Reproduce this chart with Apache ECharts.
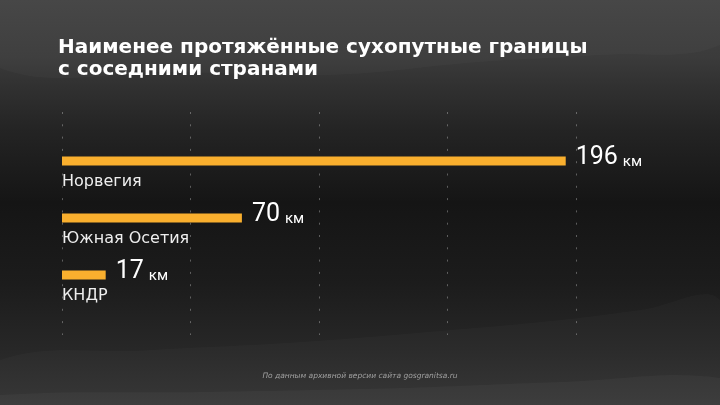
<!DOCTYPE html>
<html><head><meta charset="utf-8">
<script src="https://cdn.jsdelivr.net/npm/echarts@6/dist/echarts.min.js"></script>
<style>html,body{margin:0;padding:0;background:#1c1c1c}#c{width:720px;height:405px}</style>
</head><body><div id="c"></div>
<script>
const categories = ['Норвегия', 'Южная Осетия', 'КНДР'];
const values = [196, 70, 17];
const unit = 'км';
const axisMin = 0, axisMax = 200, axisStep = 50;
const titleText = 'Наименее протяжённые сухопутные границы\nс соседними странами';
const sourceText = 'По данным архивной версии сайта gosgranitsa.ru';

const chart = echarts.init(document.getElementById('c'));
const FONT = 'DejaVu Sans';
const NUMFONT = 'Roboto';
chart.setOption({
  backgroundColor: {
    type: 'linear', x: 0, y: 0, x2: 0, y2: 1,
    colorStops: [
      {offset: 0, color: '#434343'},
      {offset: 0.14, color: '#3b3b3b'},
      {offset: 0.22, color: '#303030'},
      {offset: 0.32, color: '#242424'},
      {offset: 0.5, color: '#151515'},
      {offset: 0.7, color: '#1c1c1c'},
      {offset: 0.86, color: '#272727'},
      {offset: 1, color: '#333333'}
    ]
  },
  graphic: [
    {type: 'polygon', silent: true, z: -10,
     shape: {smooth: 0.4, points: [[0,0],[720,0],[720,45],[600,55],[480,62],[330,75],[180,72],[0,68]]},
     style: {fill: 'rgba(255,255,255,0.025)'}},
    {type: 'polygon', silent: true, z: -10,
     shape: {smooth: 0.4, points: [[0,405],[0,360],[150,350],[300,342],[450,330],[560,320],[640,310],[720,300],[720,405]]},
     style: {fill: 'rgba(255,255,255,0.02)'}},
    {type: 'polygon', silent: true, z: -10,
     shape: {smooth: 0.4, points: [[0,405],[0,395],[200,392],[400,388],[560,382],[720,378],[720,405]]},
     style: {fill: 'rgba(255,255,255,0.03)'}}
  ],
  title: [{
    text: titleText, left: 53, top: 32,
    textStyle: {color: '#ffffff', fontFamily: FONT, fontWeight: 'bold', fontSize: 20, lineHeight: 22}
  }, {
    text: sourceText, left: 'center', top: 367,
    textStyle: {color: '#a0a0a0', fontFamily: FONT, fontStyle: 'italic', fontWeight: 'normal', fontSize: 7.5}
  }],
  grid: [
    {left: 62, right: 144, top: 112, bottom: 70},
    {left: 62, right: 144, top: 132.5, bottom: 101.5}
  ],
  xAxis: [
    {gridIndex: 0, type: 'value', min: axisMin, max: axisMax, interval: axisStep,
     axisLine: {show: false}, axisTick: {show: false}, axisLabel: {show: false},
     splitLine: {show: true, lineStyle: {color: 'rgba(255,255,255,0.3)', width: 1, type: [2, 10.3]}}},
    {gridIndex: 1, type: 'value', min: axisMin, max: axisMax, show: false, splitLine: {show: false}}
  ],
  yAxis: [
    {gridIndex: 0, type: 'value', min: 0, max: 1, show: false, splitLine: {show: false}},
    {gridIndex: 1, type: 'category', data: categories, inverse: true,
     axisLine: {show: false}, axisTick: {show: false},
     axisLabel: {inside: true, margin: 0, align: 'left', verticalAlign: 'top', padding: [13, 0, 0, 0],
       color: '#eeeeee', fontFamily: FONT, fontSize: 16}}
  ],
  series: [{
    type: 'bar', xAxisIndex: 1, yAxisIndex: 1, data: values, barWidth: 9,
    itemStyle: {color: '#F9AF2E'},
    label: {
      show: true, position: 'right', distance: 10, offset: [0, -4],
      formatter: p => '{v|' + p.value + '}{u|' + unit + '}',
      rich: {
        v: {fontFamily: NUMFONT, fontSize: 25, color: '#ffffff', lineHeight: 26, verticalAlign: 'bottom'},
        u: {fontFamily: NUMFONT, fontSize: 15, color: '#ffffff', lineHeight: 26, verticalAlign: 'bottom', padding: [0, 0, 0, 5]}
      }
    }
  }, {
    type: 'line', xAxisIndex: 0, yAxisIndex: 0, data: [], silent: true
  }],
  animation: false
});
</script></body></html>
